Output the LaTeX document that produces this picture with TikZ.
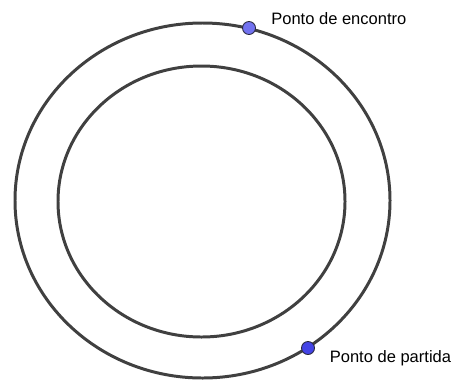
\documentclass[tikz,border=0pt]{standalone}
\usepackage{fontspec}
\setmainfont{Liberation Sans}
\usepackage{xcolor}
\usetikzlibrary{positioning}
\definecolor{orbit}{HTML}{404040}
\definecolor{dotlight}{HTML}{7272F0}
\definecolor{dotdark}{HTML}{4444E6}
\definecolor{rim}{HTML}{2A2A40}

\begin{document}
\begin{tikzpicture}[x=0.02cm,y=-0.02cm,
  track/.style={draw=orbit,line width=1.7pt},
  dot/.style={circle,draw=rim,line width=0.5pt,inner sep=0pt,minimum size=7.4pt},
  lbl/.style={anchor=west,inner sep=0pt,font=\fontsize{9.4}{11}\selectfont,text=black}]
\useasboundingbox (0,0) rectangle (455,379);
\draw[track] (202.5,200.5) ellipse [x radius=187.5, y radius=177.5];
\draw[track] (201.5,201.5) ellipse [x radius=143.5, y radius=135.5];
\node[dot,fill=dotlight] (encontro) at (249,28) {};
\node[dot,fill=dotdark] (partida) at (308,348) {};
\node[lbl] (encontrotxt) at (271,19) {Ponto de encontro};
\node[lbl] (partidatxt) at (329.5,358) {Ponto de partida};
\end{tikzpicture}
\end{document}
